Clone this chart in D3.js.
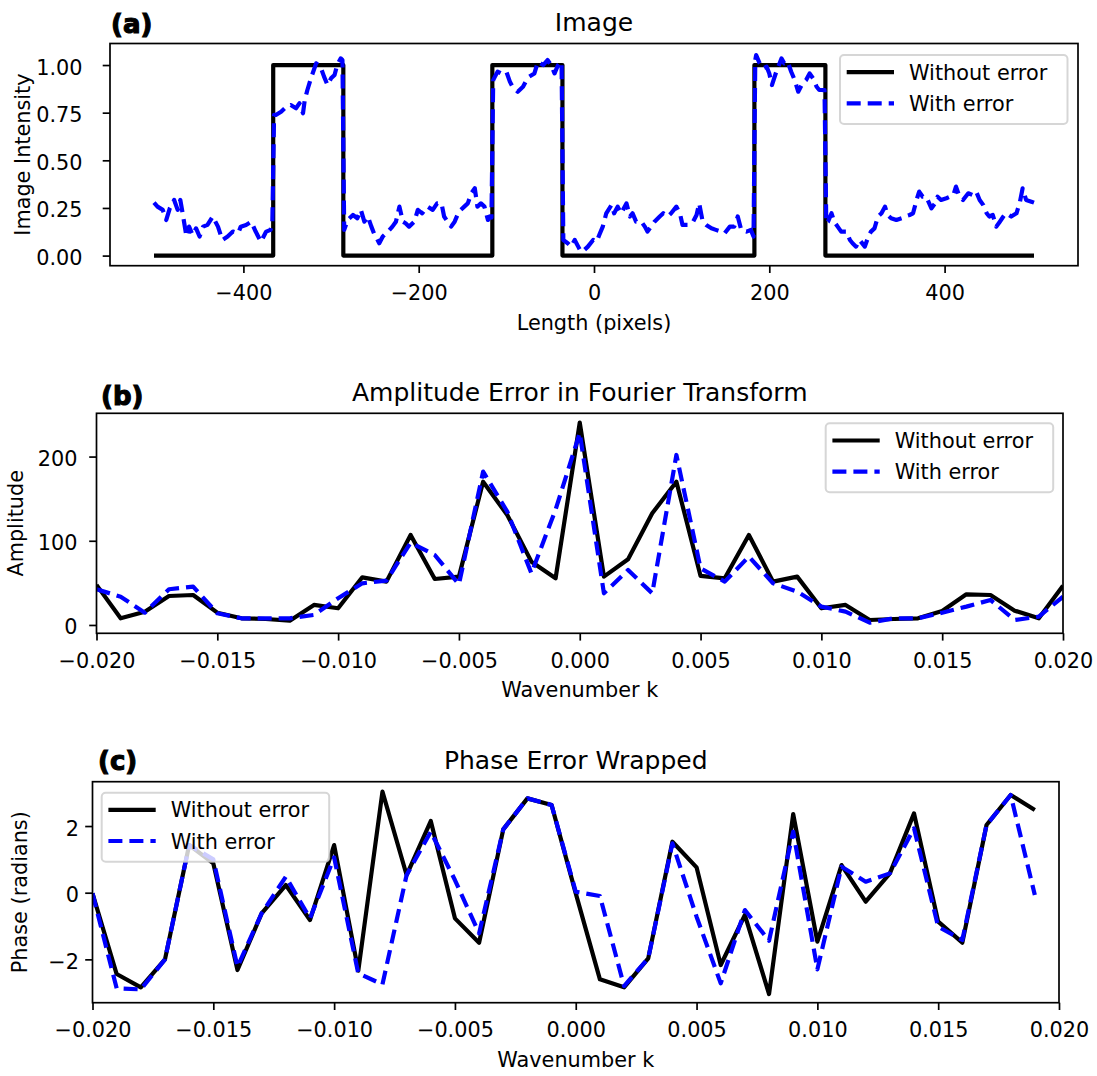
<!DOCTYPE html>
<html>
<head>
<meta charset="utf-8">
<script src="https://cdn.jsdelivr.net/npm/d3@7"></script>
<style>
  body { margin: 0; background: #fff; }
  svg text { font-family: "DejaVu Sans", sans-serif; fill: #000; }
</style>
</head>
<body>
<div id="chart"></div>
<script>
// ---- (a) image profile ----
// edges of the true (step) image and the level after each edge
var stepEdges = [-502, -366, -286, -116, -36, 183, 264, 502];
var stepLevels = [0, 1, 0, 1, 0, 1, 0, 0];

// image with error, [pixel, intensity]
var imgWithError = [
  [-502,0.278],[-498,0.257],[-492,0.240],[-488,0.187],[-484,0.248],[-479,0.292],[-475,0.240],[-472,0.292],
  [-469,0.213],[-465,0.100],[-462,0.152],[-458,0.108],[-454,0.143],[-450,0.100],[-446,0.152],[-441,0.161],
  [-435,0.205],[-429,0.152],[-424,0.082],[-418,0.100],[-412,0.126],[-406,0.117],[-403,0.152],[-397,0.161],
  [-391,0.178],[-386,0.126],[-380,0.073],[-374,0.126],[-369,0.135],[-367,0.170],
  [-365,0.738],[-363,0.738],[-357,0.755],[-351,0.781],[-346,0.790],[-340,0.773],[-336,0.799],[-332,0.747],
  [-330,0.816],[-327,0.869],[-323,0.930],[-317,1.009],[-312,0.991],[-308,0.939],[-304,0.895],[-300,0.930],
  [-296,0.948],[-293,1.000],[-289,1.035],[-287,1.026],
  [-285,0.135],[-281,0.187],[-275,0.213],[-270,0.196],[-266,0.240],[-262,0.178],[-258,0.205],[-254,0.152],
  [-251,0.117],[-245,0.065],[-241,0.100],[-235,0.126],[-230,0.152],[-226,0.178],[-222,0.257],[-218,0.178],
  [-215,0.170],[-211,0.152],[-205,0.178],[-201,0.240],[-196,0.222],[-190,0.257],[-184,0.240],[-179,0.274],
  [-174,0.274],[-171,0.205],[-167,0.178],[-163,0.152],[-159,0.178],[-155,0.222],[-152,0.240],[-148,0.257],
  [-144,0.274],[-140,0.327],[-136,0.353],[-133,0.257],[-129,0.274],[-125,0.257],[-121,0.187],[-119,0.205],
  [-117,0.200],
  [-115,0.921],[-113,0.939],[-110,0.965],[-106,0.956],[-100,0.965],[-96,0.913],[-93,0.886],[-87,0.860],
  [-81,0.886],[-77,0.921],[-74,0.939],[-68,0.956],[-64,1.017],[-58,1.000],[-53,1.026],[-49,1.000],
  [-45,0.956],[-41,1.000],[-38,1.017],[-37,1.009],
  [-35,0.082],[-30,0.065],[-26,0.047],[-22,0.082],[-18,0.047],[-15,0.021],[-11,0.030],[-7,0.047],
  [-1,0.082],[3,0.073],[6,0.108],[10,0.152],[14,0.222],[20,0.266],[23,0.222],[27,0.257],
  [31,0.222],[37,0.274],[41,0.205],[44,0.222],[48,0.178],[54,0.178],[58,0.152],[61,0.126],
  [65,0.152],[69,0.178],[75,0.205],[79,0.222],[84,0.205],[88,0.222],[94,0.257],[98,0.222],
  [101,0.161],[107,0.161],[113,0.178],[117,0.213],[120,0.274],[124,0.178],[128,0.161],[134,0.143],
  [139,0.135],[145,0.126],[149,0.117],[155,0.152],[160,0.152],[164,0.205],[168,0.135],[174,0.126],
  [179,0.135],[182,0.100],
  [184,1.026],[185,1.052],[189,1.009],[193,0.983],[197,0.991],[200,0.956],[203,0.895],[208,0.965],
  [214,1.035],[217,1.009],[221,1.017],[225,0.965],[229,0.921],[233,0.860],[238,0.904],[242,0.921],
  [246,0.956],[250,0.930],[254,0.886],[257,0.869],[263,0.869],
  [265,0.170],[267,0.178],[271,0.222],[274,0.178],[278,0.152],[282,0.126],[288,0.126],[292,0.082],
  [295,0.065],[299,0.047],[303,0.082],[309,0.047],[313,0.100],[316,0.126],[320,0.143],[324,0.205],
  [328,0.222],[332,0.257],[335,0.213],[339,0.196],[345,0.187],[351,0.196],[354,0.205],[360,0.213],
  [364,0.222],[368,0.292],[371,0.336],[375,0.309],[379,0.309],[385,0.248],[389,0.274],[392,0.309],
  [396,0.292],[402,0.301],[406,0.309],[410,0.318],[413,0.362],[417,0.309],[421,0.292],[427,0.327],
  [432,0.318],[436,0.336],[440,0.292],[444,0.266],[448,0.222],[451,0.205],[455,0.213],[459,0.152],
  [463,0.178],[467,0.205],[470,0.222],[476,0.205],[482,0.222],[486,0.283],[489,0.353],[493,0.292],
  [499,0.283],[502,0.278]
];
var imgXTicks = [-400, -200, 0, 200, 400];
var imgYTicks = [0, 0.25, 0.5, 0.75, 1.0];

// ---- (b) amplitude ----
var kAmp = [-0.020, -0.019, -0.018, -0.017, -0.016, -0.015, -0.014, -0.013, -0.012, -0.011,
            -0.010, -0.009, -0.008, -0.007, -0.006, -0.005, -0.004, -0.003, -0.002, -0.001,
            0.000, 0.001, 0.002, 0.003, 0.004, 0.005, 0.006, 0.007, 0.008, 0.009,
            0.010, 0.011, 0.012, 0.013, 0.014, 0.015, 0.016, 0.017, 0.018, 0.019, 0.020];
var ampNoErr = [47.5, 7.9, 15.8, 34.4, 35.6, 14.6, 7.9, 7.1, 5.1, 23.8,
                19.8, 56.6, 51.5, 106.9, 54.6, 57.4, 170.2, 130.6, 75.2, 55.4,
                240.3, 57.4, 78, 132.6, 170.2, 58.2, 55.4, 106.9, 51.5, 57.4,
                19.8, 23.8, 5.9, 7.1, 7.9, 16.6, 36.4, 35.6, 17, 7.9, 46.7];
var ampErr = [42.4, 33.6, 14.6, 42.4, 45.5, 13.9, 7.9, 7.9, 7.9, 11.9,
              31.7, 49.5, 52.7, 97.8, 83.1, 48.3, 182.1, 134.6, 61.4, 137,
              228, 37.6, 65.3, 37.6, 201.9, 67.3, 51.5, 81.2, 49.5, 39.6,
              21.8, 15.8, 2.8, 7.9, 7.9, 14.6, 21.8, 29.7, 5.9, 9.9, 33.6];
var ampTicks = [0, 100, 200];

// ---- (c) wrapped phase ----
var kPhase = [-0.020, -0.019, -0.018, -0.017, -0.016, -0.015, -0.014, -0.013, -0.012, -0.011,
              -0.010, -0.009, -0.008, -0.007, -0.006, -0.005, -0.004, -0.003, -0.002, -0.001,
              0.000, 0.001, 0.002, 0.003, 0.004, 0.005, 0.006, 0.007, 0.008, 0.009,
              0.010, 0.011, 0.012, 0.013, 0.014, 0.015, 0.016, 0.017, 0.018, 0.019];
var phaseNoErr = [-0.02, -2.44, -2.84, -2.0, 1.43, 0.88, -2.32, -0.62, 0.23, -0.82,
                  1.43, -2.34, 3.03, 0.53, 2.15, -0.77, -1.5, 1.9, 2.83, 2.63,
                  -0.02, -2.6, -2.84, -1.97, 1.53, 0.76, -2.17, -0.67, -3.04, 2.36,
                  -1.47, 0.83, -0.27, 0.58, 2.38, -0.87, -1.5, 2.03, 2.93, 2.48];
var phaseErr = [-0.02, -2.87, -2.9, -2.0, 1.43, 1.0, -2.22, -0.62, 0.48, -0.77,
                1.06, -2.42, -2.75, 0.53, 1.83, 0.38, -1.22, 1.9, 2.83, 2.63,
                0.03, -0.1, -2.8, -1.97, 1.48, -0.72, -2.72, -0.52, -1.44, 1.83,
                -2.3, 0.78, 0.33, 0.58, 1.93, -1.02, -1.42, 2.03, 2.93, -0.07];
var phaseTicks = [-2, 0, 2];

var kTicks = [-0.020, -0.015, -0.010, -0.005, 0.000, 0.005, 0.010, 0.015, 0.020];
var legendLabels = ["Without error", "With error"];

var FS = 20.8;       // 10pt text
var TITLE_FS = 25;   // 12pt titles
var BLUE = "#0000ff";
var DASH = "14,7";

var svg = d3.select("#chart").append("svg")
    .attr("width", 1097)
    .attr("height", 1076);

function makePanel(cfg) {
  var g = svg.append("g");
  var x = d3.scaleLinear().domain(cfg.xDomain).range([cfg.left, cfg.right]);
  var y = d3.scaleLinear().domain(cfg.yDomain).range([cfg.bottom, cfg.top]);

  g.append("clipPath").attr("id", cfg.id + "-clip")
    .append("rect")
    .attr("x", cfg.left).attr("y", cfg.top)
    .attr("width", cfg.right - cfg.left)
    .attr("height", cfg.bottom - cfg.top);

  var plot = g.append("g").attr("clip-path", "url(#" + cfg.id + "-clip)");

  var xAxis = d3.axisBottom(x)
      .tickValues(cfg.xTicks)
      .tickFormat(cfg.xFormat)
      .tickSize(7.3)
      .tickSizeOuter(0);
  var yAxis = d3.axisLeft(y)
      .tickValues(cfg.yTicks)
      .tickFormat(cfg.yFormat)
      .tickSize(7.3)
      .tickSizeOuter(0);

  var gx = g.append("g")
    .attr("transform", "translate(0," + cfg.bottom + ")")
    .call(xAxis)
    .attr("font-size", FS)
    .attr("font-family", null);
  gx.select(".domain").remove();
  gx.selectAll(".tick line").attr("stroke-width", 1.7);
  gx.selectAll(".tick text").attr("y", 34.5).attr("dy", 0);

  var gy = g.append("g")
    .attr("transform", "translate(" + cfg.left + ",0)")
    .call(yAxis)
    .attr("font-size", FS)
    .attr("font-family", null);
  gy.select(".domain").remove();
  gy.selectAll(".tick line").attr("stroke-width", 1.7);
  gy.selectAll(".tick text").attr("x", -cfg.yTickGap).attr("dy", 9);

  // titles and labels
  g.append("text")
    .attr("x", (cfg.left + cfg.right) / 2)
    .attr("y", cfg.top - 12.5)
    .attr("text-anchor", "middle")
    .attr("font-size", TITLE_FS)
    .text(cfg.title);

  g.append("text")
    .attr("x", cfg.tagX)
    .attr("y", cfg.tagY)
    .attr("font-size", 26)
    .attr("font-weight", "bold")
    .style("stroke", "#000")
    .style("stroke-width", 1.1)
    .text(cfg.tag);

  g.append("text")
    .attr("x", (cfg.left + cfg.right) / 2)
    .attr("y", cfg.bottom + 63.8)
    .attr("text-anchor", "middle")
    .attr("font-size", FS)
    .text(cfg.xLabel);

  g.append("text")
    .attr("transform", "translate(" + cfg.yLabelX + "," + (cfg.top + cfg.bottom) / 2 + ") rotate(-90)")
    .attr("text-anchor", "middle")
    .attr("font-size", FS)
    .text(cfg.yLabel);

  return {g: g, plot: plot, x: x, y: y, cfg: cfg};
}

function frame(p) {
  var c = p.cfg;
  p.g.append("rect")
    .attr("x", c.left).attr("y", c.top)
    .attr("width", c.right - c.left)
    .attr("height", c.bottom - c.top)
    .attr("fill", "none")
    .attr("stroke", "#000")
    .attr("stroke-width", 1.7);
}

function legend(p, lx, ly) {
  var lg = p.g.append("g").attr("transform", "translate(" + lx + "," + ly + ")");
  lg.append("rect")
    .attr("width", 227.5)
    .attr("height", 69)
    .attr("rx", 4)
    .attr("fill", "#fff")
    .attr("fill-opacity", 0.8)
    .attr("stroke", "#ccc")
    .attr("stroke-opacity", 0.8)
    .attr("stroke-width", 2);
  var rows = [17.2, 48.3];
  legendLabels.forEach(function(label, i) {
    lg.append("line")
      .attr("x1", 6.7).attr("x2", 54)
      .attr("y1", rows[i]).attr("y2", rows[i])
      .attr("stroke", i == 0 ? "#000" : BLUE)
      .attr("stroke-width", 4.2)
      .attr("stroke-dasharray", i == 0 ? null : DASH);
    lg.append("text")
      .attr("x", 69)
      .attr("y", rows[i] + 7.6)
      .attr("font-size", FS)
      .text(label);
  });
}

function drawLine(p, data, color, dashed, curve) {
  var line = d3.line()
      .x(function(d) { return p.x(d[0]); })
      .y(function(d) { return p.y(d[1]); })
      .curve(curve || d3.curveLinear);
  p.plot.append("path")
    .datum(data)
    .attr("d", line)
    .attr("fill", "none")
    .attr("stroke", color)
    .attr("stroke-width", 4.2)
    .attr("stroke-linejoin", "round")
    .attr("stroke-dasharray", dashed ? DASH : null);
}

// ---- panel (a)
var pa = makePanel({
  id: "pa", left: 110, right: 1078, top: 43.5, bottom: 265.7,
  xDomain: [-552.2, 552.2], yDomain: [-0.053, 1.113],
  xTicks: imgXTicks, yTicks: imgYTicks,
  xFormat: d3.format("d"), yFormat: d3.format(".2f"),
  yTickGap: 27.5,
  title: "Image", tag: "(a)", tagX: 111, tagY: 33.3,
  xLabel: "Length (pixels)", yLabel: "Image Intensity", yLabelX: 29.5
});
drawLine(pa, stepEdges.map(function(e, i) { return [e, stepLevels[i]]; }), "#000", false, d3.curveStepAfter);
drawLine(pa, imgWithError, BLUE, true);
frame(pa);
legend(pa, 840, 55);

// ---- panel (b)
var pb = makePanel({
  id: "pb", left: 96.5, right: 1063, top: 413.3, bottom: 633.3,
  xDomain: [-0.02, 0.02], yDomain: [-9.9, 251.4],
  xTicks: kTicks, yTicks: ampTicks,
  xFormat: d3.format(".3f"), yFormat: d3.format("d"),
  yTickGap: 19,
  title: "Amplitude Error in Fourier Transform", tag: "(b)", tagX: 101, tagY: 404.6,
  xLabel: "Wavenumber k", yLabel: "Amplitude", yLabelX: 22.7
});
drawLine(pb, kAmp.map(function(k, i) { return [k, ampNoErr[i]]; }), "#000", false);
drawLine(pb, kAmp.map(function(k, i) { return [k, ampErr[i]]; }), BLUE, true);
frame(pb);
legend(pb, 825.7, 423.3);

// ---- panel (c)
var pc = makePanel({
  id: "pc", left: 92.5, right: 1059, top: 781.7, bottom: 1002.7,
  xDomain: [-0.02, 0.02], yDomain: [-3.30, 3.33],
  xTicks: kTicks, yTicks: phaseTicks,
  xFormat: d3.format(".3f"), yFormat: d3.format("d"),
  yTickGap: 13.5,
  title: "Phase Error Wrapped", tag: "(c)", tagX: 98, tagY: 770,
  xLabel: "Wavenumber k", yLabel: "Phase (radians)", yLabelX: 27
});
drawLine(pc, kPhase.map(function(k, i) { return [k, phaseNoErr[i]]; }), "#000", false);
drawLine(pc, kPhase.map(function(k, i) { return [k, phaseErr[i]]; }), BLUE, true);
frame(pc);
legend(pc, 101.7, 792.7);
</script>
</body>
</html>
